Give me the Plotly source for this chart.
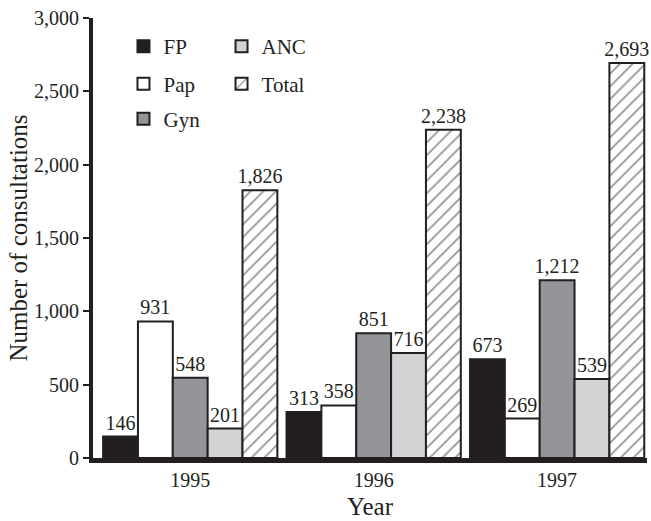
import plotly.graph_objects as go

years = ["1995", "1996", "1997"]
fp = [146, 313, 673]
pap = [931, 358, 269]
gyn = [548, 851, 1212]
anc = [201, 716, 539]
total = [1826, 2238, 2693]

FONT = "Liberation Serif"

series = [
    ("FP", fp, "#231f20", None, "legend"),
    ("Pap", pap, "#ffffff", None, "legend2"),
    ("Gyn", gyn, "#939598", None, "legend3"),
    ("ANC", anc, "#d1d3d4", None, "legend4"),
    ("Total", total, "#ffffff", "/", "legend5"),
]

fig = go.Figure()
for name, vals, color, pat, leg in series:
    marker = dict(color=color, line=dict(color="#231f20", width=2))
    if pat:
        marker["pattern"] = dict(shape=pat, fgcolor="#231f20", bgcolor="#ffffff",
                                 size=9, solidity=0.18)
    fig.add_trace(go.Bar(
        x=years, y=vals, name=name, marker=marker, legend=leg,
        texttemplate="%{y:,}", textposition="outside", constraintext="none",
        textfont=dict(family=FONT, size=20, color="#231f20"),
        cliponaxis=False,
    ))

leg_common = dict(font=dict(family=FONT, size=21, color="#231f20"),
                  bgcolor="rgba(0,0,0,0)", xanchor="left", yanchor="middle")
positions = {
    "legend": (0.055, 0.935),
    "legend2": (0.055, 0.85),
    "legend3": (0.055, 0.77),
    "legend4": (0.232, 0.935),
    "legend5": (0.232, 0.85),
}
layout_legends = {k: dict(x=x, y=y, **leg_common) for k, (x, y) in positions.items()}

fig.update_layout(
    width=651, height=521,
    margin=dict(l=93, r=4, t=18, b=63, autoexpand=False),
    paper_bgcolor="white", plot_bgcolor="white",
    barmode="group", bargap=0.05, bargroupgap=0,
    font=dict(family=FONT, size=20, color="#231f20"),
    showlegend=True,
    **layout_legends,
)
fig.update_xaxes(
    type="category", range=[-0.53, 2.49], automargin=False,
    showline=True, linecolor="#231f20", linewidth=5,
    ticks="", tickfont=dict(family=FONT, size=20),
    title=dict(text="Year", font=dict(family=FONT, size=25), standoff=9),
    showgrid=False, zeroline=False,
)
fig.update_yaxes(
    range=[0, 3000], tickvals=[0, 500, 1000, 1500, 2000, 2500, 3000],
    tickformat=",", automargin=False, ticklabeloverflow="allow",
    showline=True, linecolor="#231f20", linewidth=4,
    ticks="outside", ticklen=6, tickwidth=2, tickcolor="#231f20",
    tickfont=dict(family=FONT, size=20),
    title=dict(text="Number of consultations", font=dict(family=FONT, size=25), standoff=0),
    showgrid=False, zeroline=False,
)

fig.write_html(
    "out.html",
    config={"displayModeBar": False},
    post_script="document.body.style.margin='0';document.body.style.overflow='hidden';",
)
